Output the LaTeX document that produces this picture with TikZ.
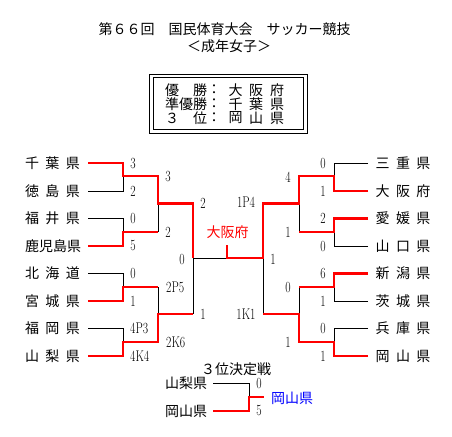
\documentclass[tikz,border=0pt]{standalone}
\usepackage{fontspec}
\usepackage{graphicx}
\newfontfamily\jp{Noto Sans CJK JP}
\newcommand\scoretxt[1]{\scalebox{0.75}[1]{#1}}
\tikzset{
  win/.style={draw=red, line width=2.6pt, line join=miter},
  lose/.style={draw=black, line width=0.9pt},
  jtext/.style={font=\jp\fontsize{14}{14}\selectfont, inner sep=0pt},
  score/.style={font=\fontsize{15.5}{15.5}\selectfont, inner sep=0pt},
}
\newcommand\spread[1]{\makebox[55pt][s]{#1}}
\begin{document}
\begin{tikzpicture}[x=1pt,y=-1pt]
\useasboundingbox (0,0) rectangle (452,436);
% title
\node[jtext] (t1) at (224.5,29) {第６６回　国民体育大会　サッカー競技};
\node[jtext] (t2) at (229,46) {＜成年女子＞};
% result box
\draw[line width=0.9pt] (149,74) rectangle (307,133);
\draw[line width=0.9pt] (153,77.5) rectangle (303.5,129.5);
\foreach \c/\x/\y/\n in {優/172/90/a1,勝/200/90/a2,：/214/90/a3,大/235.5/90/a4,阪/256/90/a5,府/277/90/a6,
  準/172/104/b1,優/186/104/b2,勝/200/104/b3,：/214/104/b4,千/235.5/104/b5,葉/256/104/b6,県/277/104/b7,
  ３/172/118/c1,位/200/118/c2,：/214/118/c3,岡/235.5/118/c4,山/256/118/c5,県/277/118/c6}
  \node[jtext] (\n) at (\x,\y) {\c};
% left teams
\node[jtext] (L1) at (52.5,163) {\spread{千\hfill 葉\hfill 県}};
\node[jtext] (L2) at (52.5,191) {\spread{徳\hfill 島\hfill 県}};
\node[jtext] (L3) at (52.5,218.5) {\spread{福\hfill 井\hfill 県}};
\node[jtext] (L4) at (52.5,246) {\spread{鹿\hfill 児\hfill 島\hfill 県}};
\node[jtext] (L5) at (52.5,273.5) {\spread{北\hfill 海\hfill 道}};
\node[jtext] (L6) at (52.5,301) {\spread{宮\hfill 城\hfill 県}};
\node[jtext] (L7) at (52.5,328.5) {\spread{福\hfill 岡\hfill 県}};
\node[jtext] (L8) at (52.5,356) {\spread{山\hfill 梨\hfill 県}};
% right teams
\node[jtext] (R1) at (403,163) {\spread{三\hfill 重\hfill 県}};
\node[jtext] (R2) at (403,191) {\spread{大\hfill 阪\hfill 府}};
\node[jtext] (R3) at (403,218.5) {\spread{愛\hfill 媛\hfill 県}};
\node[jtext] (R4) at (403,246) {\spread{山\hfill 口\hfill 県}};
\node[jtext] (R5) at (403,273.5) {\spread{新\hfill 潟\hfill 県}};
\node[jtext] (R6) at (403,301) {\spread{茨\hfill 城\hfill 県}};
\node[jtext] (R7) at (403,328.5) {\spread{兵\hfill 庫\hfill 県}};
\node[jtext] (R8) at (403,356) {\spread{岡\hfill 山\hfill 県}};
% coordinates
\foreach \i/\y in {1/163,2/191,3/218.5,4/246,5/273.5,6/301,7/328.5,8/356}{
  \coordinate (la\i) at (88,\y); \coordinate (lb\i) at (123,\y);
  \coordinate (ra\i) at (368,\y); \coordinate (rb\i) at (334,\y);}
% left round 1
\draw[lose] (la2) -- (lb2) -- (123,176);
\draw[lose] (la3) -- (lb3) -- (123,232);
\draw[lose] (la5) -- (lb5) -- (123,287);
\draw[lose] (la7) -- (lb7) -- (123,342);
% left round 2 / semi
\draw[lose] (158,232) -- (158,203.5);
\draw[lose] (158,287) -- (158,314);
\draw[lose] (193,314) -- (193,258) -- (227,258);
% right round 1
\draw[lose] (ra1) -- (rb1) -- (334,176);
\draw[lose] (ra4) -- (rb4) -- (334,232);
\draw[lose] (ra6) -- (rb6) -- (334,287);
\draw[lose] (ra7) -- (rb7) -- (334,342);
\draw[lose] (299,232) -- (299,203.5);
\draw[lose] (299,287) -- (299,314);
\draw[lose] (263,314) -- (263,258);
% winners left
\draw[win] (la1) -- (lb1) -- (123,176) -- (158,176) -- (158,203.5) -- (193,203.5) -- (193,258);
\draw[win] (la4) -- (lb4) -- (123,232) -- (158,232);
\draw[win] (la6) -- (lb6) -- (123,287) -- (158,287);
\draw[win] (la8) -- (lb8) -- (123,342) -- (158,342) -- (158,314) -- (193,314);
% winners right
\draw[win] (ra2) -- (rb2) -- (334,176) -- (299,176) -- (299,203.5) -- (263,203.5) -- (263,258) -- (227,258) -- (227,245);
\draw[win] (ra3) -- (rb3) -- (334,232) -- (299,232);
\draw[win] (ra5) -- (rb5) -- (334,287) -- (299,287);
\draw[win] (ra8) -- (rb8) -- (334,342) -- (299,342) -- (299,314) -- (263,314);
% champion label
\node[jtext, text=red] (champ) at (227.5,232) {大阪府};
% left scores
\foreach \s/\y/\n in {3/163/s1,2/191/s2,0/218.5/s3,5/246/s4,0/273.5/s5,1/301/s6}
  \node[score] (\n) at (133,\y) {\scoretxt{\s}};
\node[score, anchor=west] (s7) at (130,328.5) {\scoretxt{4P3}};
\node[score, anchor=west] (s8) at (130,356) {\scoretxt{4K4}};
\node[score] (s9) at (168,176) {\scoretxt{3}};
\node[score] (s10) at (168,232) {\scoretxt{2}};
\node[score, anchor=west] (s11) at (166,287) {\scoretxt{2P5}};
\node[score, anchor=west] (s12) at (166,342) {\scoretxt{2K6}};
\node[score] (s13) at (203,203.5) {\scoretxt{2}};
\node[score] (s14) at (203,314) {\scoretxt{1}};
\node[score] (s15) at (182,259) {\scoretxt{0}};
\node[score] (s16) at (273,259) {\scoretxt{1}};
% right scores
\foreach \s/\y/\n in {0/163/t1s,1/191/t2s,2/218.5/t3s,0/246/t4s,6/273.5/t5s,1/301/t6s,0/328.5/t7s,1/356/t8s}
  \node[score] (\n) at (323,\y) {\scoretxt{\s}};
\foreach \s/\y/\n in {4/177/u1,1/232/u2,0/287/u3,1/342/u4}
  \node[score] (\n) at (288,\y) {\scoretxt{\s}};
\node[score] (v1) at (246,202) {\scoretxt{1P4}};
\node[score] (v2) at (246,314) {\scoretxt{1K1}};
% third place
\node[jtext] (third) at (236,369) {３位決定戦};
\node[jtext] (T1) at (186,383) {山梨県};
\node[jtext] (T2) at (186,411) {岡山県};
\node[jtext, text=blue] (T3) at (292,398) {岡山県};
\draw[lose] (213,383) -- (249,383) -- (249,397);
\draw[win] (213,411) -- (249,411) -- (249,397) -- (264,397);
\node[score] (w1) at (259,383) {\scoretxt{0}};
\node[score] (w2) at (259,411) {\scoretxt{5}};
\end{tikzpicture}
\end{document}
